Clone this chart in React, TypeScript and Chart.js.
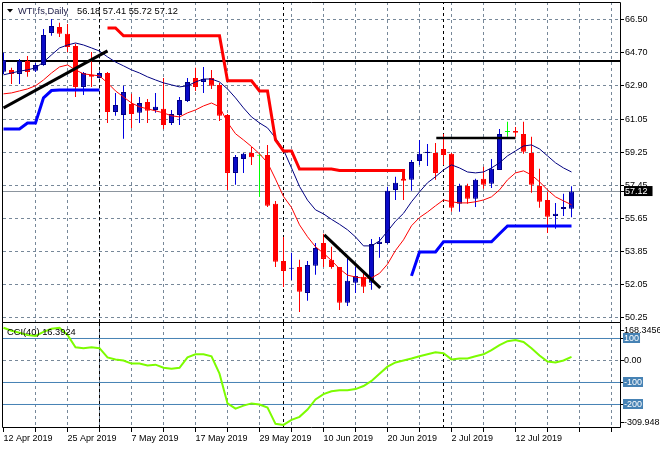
import React, { useEffect, useRef } from 'react';
import { Chart, registerables } from 'chart.js';

Chart.register(...registerables);

// ---------- data ----------
const symbolTitle = 'WTI.fs,Daily';
const lastBarText = '56.18 57.41 55.72 57.12';
const cciTitle = 'CCI(40) 16.3924';

const dateLabels = ['12 Apr 2019', '25 Apr 2019', '7 May 2019', '17 May 2019', '29 May 2019', '10 Jun 2019', '20 Jun 2019', '2 Jul 2019', '12 Jul 2019'];

const openP = [63.67, 63.77, 63.55, 64.26, 63.72, 64.04, 65.79, 66.12, 65.74, 65.08,
  62.84, 63.50, 63.33, 63.60, 61.47, 61.30, 61.91, 61.42, 62.02, 61.58,
  61.64, 60.87, 61.30, 62.07, 63.33, 63.11, 63.33, 62.95, 61.31, 58.14,
  58.90, 59.23, 59.07, 59.12, 56.45, 53.33, 52.90, 53.00, 51.58, 53.06,
  54.31, 53.39, 53.00, 51.04, 52.13, 52.46, 52.13, 54.26, 54.31, 57.21,
  57.82, 57.76, 58.79, 59.23, 59.23, 59.45, 59.18, 56.45, 57.43, 56.72,
  57.82, 57.54, 58.30, 60.38, 60.43, 60.27, 59.23, 57.43, 56.66, 55.79,
  56.17, 56.18];
const highP = [64.71, 63.88, 64.37, 64.53, 64.15, 66.00, 66.55, 66.34, 66.28, 65.20,
  63.66, 64.75, 63.70, 63.66, 62.50, 62.90, 62.46, 62.29, 62.18, 62.51,
  63.33, 61.58, 62.29, 63.33, 63.88, 63.93, 63.77, 63.06, 61.36, 59.12,
  59.23, 59.56, 59.18, 59.67, 56.61, 54.64, 53.77, 53.39, 53.33, 54.31,
  54.81, 54.10, 53.00, 53.50, 53.00, 52.68, 54.53, 54.64, 57.38, 57.93,
  57.82, 58.85, 59.94, 59.72, 59.78, 60.27, 59.23, 57.54, 57.54, 57.82,
  58.47, 58.90, 60.54, 60.93, 60.65, 60.93, 60.11, 58.36, 57.10, 56.50,
  57.00, 57.41];
const lowP = [63.54, 63.00, 63.00, 63.39, 63.66, 64.00, 65.63, 65.57, 64.75, 62.29,
  62.40, 62.84, 63.30, 60.87, 61.26, 60.00, 60.60, 60.87, 60.87, 61.42,
  60.54, 60.76, 60.76, 62.02, 62.62, 62.51, 62.73, 60.98, 57.21, 57.49,
  58.14, 58.57, 56.83, 56.28, 53.00, 51.90, 52.29, 50.54, 51.15, 52.57,
  53.00, 52.90, 50.65, 50.87, 51.58, 51.58, 51.75, 53.50, 54.26, 56.66,
  56.66, 57.16, 58.57, 58.52, 57.76, 58.57, 56.01, 56.01, 56.45, 56.28,
  57.27, 57.32, 58.30, 60.11, 60.11, 59.18, 57.05, 56.23, 54.86, 55.08,
  55.79, 55.72];
const closeP = [64.31, 63.55, 64.26, 63.66, 64.04, 65.68, 66.17, 65.74, 65.02, 62.84,
  63.60, 63.39, 63.60, 61.47, 61.85, 62.56, 61.36, 61.96, 61.53, 61.75,
  60.76, 61.36, 62.13, 63.11, 62.84, 63.27, 62.90, 61.26, 58.14, 59.01,
  59.18, 59.00, 59.07, 56.34, 53.28, 52.78, 52.95, 51.64, 53.11, 54.04,
  53.44, 53.00, 51.04, 52.24, 52.51, 51.91, 54.26, 54.37, 57.16, 57.60,
  57.71, 58.74, 59.18, 59.29, 58.14, 59.12, 56.23, 57.43, 56.72, 57.76,
  57.49, 58.36, 60.27, 60.38, 60.33, 59.29, 57.49, 56.56, 55.74, 55.90,
  56.28, 57.12];

const maSlow = [63.50, 63.60, 63.70, 63.77, 63.88, 64.20, 64.59, 64.97, 65.13, 65.24,
  65.13, 64.97, 64.80, 64.48, 64.20, 63.99, 63.77, 63.60, 63.39, 63.22,
  63.06, 62.95, 62.84, 62.90, 63.11, 63.27, 63.27, 63.11, 62.73, 62.24,
  61.69, 61.20, 60.87, 60.60, 60.05, 59.40, 58.41, 57.40, 56.65, 56.12,
  55.90, 55.60, 55.33, 55.03, 54.64, 54.15, 54.15, 54.42, 54.95, 55.50,
  55.93, 56.56, 57.10, 57.60, 57.93, 58.30, 58.58, 58.41, 58.19, 58.14,
  58.19, 58.41, 58.69, 59.07, 59.34, 59.61, 59.67, 59.45, 59.07, 58.69,
  58.41, 58.19];
const maFast = [62.46, 62.51, 62.62, 62.73, 62.90, 63.22, 63.60, 63.93, 64.04, 63.77,
  63.55, 63.50, 63.44, 63.06, 62.62, 62.29, 61.96, 61.75, 61.64, 61.53,
  61.42, 61.26, 61.20, 61.42, 61.58, 61.80, 61.96, 61.75, 60.90, 60.28,
  59.94, 59.58, 59.18, 58.70, 57.80, 56.85, 56.25, 55.30, 54.65, 54.10,
  53.75, 53.35, 52.90, 52.55, 52.45, 52.38, 52.40, 52.65, 53.15, 53.90,
  54.48, 55.25, 55.70, 56.00, 56.34, 56.66, 56.56, 56.50, 56.50, 56.56,
  56.66, 56.83, 57.21, 57.76, 58.14, 58.25, 58.03, 57.65, 57.21, 56.83,
  56.61, 56.40];

const upperStop = [null, null, null, null, null, null, null, null, null, null,
  null, null, null, 66.06, 66.06, 65.63, 65.63, 65.63, 65.63, 65.63,
  65.63, 65.63, 65.63, 65.63, 65.63, 65.63, 65.63, 65.63, 63.17, 63.17,
  63.17, 63.17, 62.62, 62.62, 59.94, 59.34, 59.34, 58.35, 58.35, 58.35,
  58.35, 58.35, 58.27, 58.27, 58.27, 58.27, 58.27, 58.27, 58.27, 58.27,
  58.27, null, null, null, null, null, null, null, null, null,
  null, null, null, null, null, null, null, null, null, null,
  null, null];
const upperStopEnd = 57.80;
const lowerStop = [60.54, 60.54, 60.54, 60.87, 60.87, 62.24, 62.64, 62.67, 62.67, 62.67,
  62.67, 62.67, 62.67, null, null, null, null, null, null, null,
  null, null, null, null, null, null, null, null, null, null,
  null, null, null, null, null, null, null, null, null, null,
  null, null, null, null, null, null, null, null, null, null,
  null, 52.51, 53.82, 53.82, 53.82, 54.37, 54.37, 54.37, 54.37, 54.37,
  54.37, 54.37, 54.81, 55.24, 55.24, 55.24, 55.24, 55.24, 55.24, 55.24,
  55.24, 55.24];

const cciValues = [149, 135, 126, 116, 112, 130, 144, 149, 116, 60,
  56, 60, 56, 14, 5, 0, -14, -14, -23, -19,
  -33, -37, -33, 14, 28, 28, 19, -60, -195, -219,
  -205, -195, -200, -214, -288, -293, -270, -256, -223, -177,
  -153, -140, -135, -135, -130, -116, -93, -60, -28, -9,
  0, 9, 19, 28, 37, 33, 5, 9, 9, 19,
  28, 47, 70, 88, 93, 84, 56, 23, -5, -9,
  0, 16.39];
const cciLevels = [100, -100, -200];
const cciLabels = ['168.3456', '100', '0.00', '-100', '-200', '-309.948'];

const priceTicks = [66.5, 64.7, 62.9, 61.05, 59.25, 57.45, 55.65, 53.85, 52.05, 50.25];
const currentPrice = 57.12;
const horizontalLevel = 64.26;
const monthStarts = [12, 35, 55];
const trendUp = [[0, 61.69], [13, 64.81]];
const trendDown = [[40.1, 54.75], [47.1, 51.86]];
const resistance = [[54.1, 60.05], [64, 60.05]];

// ---------- layout constants ----------
const X_MIN = -0.0625;
const X_MAX = 77.1875;
const Y_MIN = 49.99;
const Y_MAX = 67.48;
const CCI_MIN = -306.82;
const CCI_MAX = 175;
const cciLabelPos = [138, 100, 0, -100, -200, -283];
const FONT = "'Liberation Sans', Arial, sans-serif";
const GRID = '#778899';
const BULL = '#0a0ac8';
const BULL_EDGE = '#000080';
const BEAR = '#ff0000';
const DOJI = '#00ff00';

export default function App() {
  const ref = useRef<HTMLCanvasElement>(null);

  useEffect(() => {
    document.body.style.margin = '0';
    const canvas = ref.current!;
    const idx = closeP.map((_, i) => i);
    const kind = (i: number) => (closeP[i] > openP[i] ? 1 : closeP[i] < openP[i] ? -1 : 0);
    const fillOf = (i: number) => (kind(i) > 0 ? BULL : kind(i) < 0 ? BEAR : DOJI);
    const edgeOf = (i: number) => (kind(i) > 0 ? BULL_EDGE : kind(i) < 0 ? BEAR : DOJI);
    const wickOf = (i: number) => (kind(i) > 0 ? '#0000e0' : kind(i) < 0 ? BEAR : DOJI);

    const line = (data: any[], color: string, width: number, yAxisID = 'y', order = 5, dash: number[] = []) => ({
      type: 'line', data, borderColor: color, borderWidth: width, borderDash: dash,
      pointRadius: 0, pointHoverRadius: 0, fill: false, tension: 0, yAxisID, xAxisID: 'x', order,
    });
    const runs = (arr: (number | null)[]) => {
      const out: any[][] = [];
      let cur: any[] = [];
      arr.forEach((v, i) => {
        if (v == null) { if (cur.length) out.push(cur); cur = []; }
        else cur.push({ x: i, y: v });
      });
      if (cur.length) out.push(cur);
      return out;
    };
    const pts = (p: number[][]) => p.map(([x, y]) => ({ x, y }));

    const upperRuns = runs(upperStop);
    const lastRun = upperRuns[upperRuns.length - 1];
    lastRun.push({ x: lastRun[lastRun.length - 1].x, y: upperStopEnd });

    const datasets: any[] = [
      // CCI levels
      ...cciLevels.map(v => line([{ x: X_MIN, y: v }, { x: X_MAX, y: v }], '#4682b4', 1, 'cci', 20)),
      line([{ x: X_MIN, y: 0 }, { x: X_MAX, y: 0 }], GRID, 1, 'cci', 20, [3, 3]),
      // month separators
      ...monthStarts.map(m => line([{ x: m, y: Y_MIN }, { x: m, y: Y_MAX }], '#000', 1, 'y', 19, [3, 3])),
      ...monthStarts.map(m => line([{ x: m, y: CCI_MIN }, { x: m, y: CCI_MAX }], '#000', 1, 'cci', 19, [3, 3])),
      // horizontal level
      line([{ x: X_MIN, y: horizontalLevel }, { x: X_MAX, y: horizontalLevel }], '#000', 2, 'y', 18),
      {
        type: 'bar', label: 'wicks', data: idx.map(i => ({ x: i, y: [lowP[i], highP[i]] })),
        backgroundColor: (c: any) => (c.dataIndex == null ? BULL : wickOf(c.dataIndex)),
        borderWidth: 0, grouped: false, maxBarThickness: 1, inflateAmount: 0,
        yAxisID: 'y', xAxisID: 'x', order: 12,
      },
      {
        type: 'bar', label: 'bodies', data: idx.map(i => ({ x: i, y: [openP[i], closeP[i]] })),
        backgroundColor: (c: any) => (c.dataIndex == null ? BULL : fillOf(c.dataIndex)),
        borderColor: (c: any) => (c.dataIndex == null ? BULL : edgeOf(c.dataIndex)),
        borderWidth: 1, borderSkipped: false, grouped: false, maxBarThickness: 5, minBarLength: 1, inflateAmount: 0,
        yAxisID: 'y', xAxisID: 'x', order: 11,
      },
      line(idx.map(i => ({ x: i, y: maSlow[i] })), '#000080', 1, 'y', 6),
      line(idx.map(i => ({ x: i, y: maFast[i] })), '#ff0000', 1, 'y', 6),
      ...upperRuns.map(r => line(r, '#ff0000', 3, 'y', 5)),
      ...runs(lowerStop).map(r => line(r, '#0000ff', 3, 'y', 5)),
      line(pts(trendUp), '#000', 3, 'y', 4),
      line(pts(trendDown), '#000', 3, 'y', 4),
      line(pts(resistance), '#000', 2.5, 'y', 4),
      line(idx.map(i => ({ x: i, y: cciValues[i] })), '#7cfc00', 2, 'cci', 3),
    ];

    const framePlugin = {
      id: 'frames',
      afterDraw(chart: any) {
        const { ctx, chartArea, scales } = chart;
        const y = scales.y, c = scales.cci;
        ctx.save();
        ctx.strokeStyle = '#000';
        ctx.lineWidth = 1;
        ctx.beginPath();
        const l = chartArea.left - 0.5, r = chartArea.right - 0.5;
        ctx.rect(l, y.top + 0.5, r - l, y.bottom - y.top);
        ctx.rect(l, c.top + 0.5, r - l, c.bottom - c.top - 1);
        ctx.stroke();
        // header
        ctx.fillStyle = '#000';
        ctx.beginPath();
        ctx.moveTo(7, 9); ctx.lineTo(13, 9); ctx.lineTo(10, 12.5); ctx.closePath(); ctx.fill();
        ctx.font = `9.3px ${FONT}`;
        ctx.textBaseline = 'middle';
        ctx.textAlign = 'left';
        ctx.fillStyle = '#20204a';
        ctx.fillText(symbolTitle, 18, 11.5);
        ctx.fillStyle = '#000';
        ctx.fillText(lastBarText, 77, 11.5);
        ctx.fillText(cciTitle, 7, c.top + 10.5);
        ctx.restore();
      },
    };

    const tickFont = { family: FONT, size: 9, lineHeight: 1 };

    const chart = new Chart(canvas, {
      type: 'bar',
      data: { datasets },
      plugins: [framePlugin],
      options: {
        animation: false,
        responsive: false,
        devicePixelRatio: 1,
        events: [],
        layout: { padding: { left: 3, top: 2, right: 0, bottom: 0 } },
        plugins: { legend: { display: false }, tooltip: { enabled: false } },
        scales: {
          x: {
            type: 'linear', min: X_MIN, max: X_MAX, offset: false,
            grid: {
              offset: false,
              color: (c: any) => (c.tick && c.tick.value === 0 ? 'rgba(0,0,0,0)' : GRID),
              lineWidth: 1, tickLength: 4, tickColor: '#000', tickWidth: 1,
            },
            border: { display: false, dash: [3, 3] },
            afterBuildTicks: (s: any) => {
              const t = [];
              for (let v = 0; v <= 76; v += 4) t.push({ value: v });
              s.ticks = t;
            },
            afterFit: (s: any) => { s.height = 22; s.paddingLeft = 0; s.paddingRight = 0; },
            ticks: {
              autoSkip: false, maxRotation: 0, minRotation: 0, align: 'start', padding: 2,
              color: '#000', font: tickFont,
              callback: (v: any) => {
                const k = Number(v) / 8;
                return Number.isInteger(k) && k < dateLabels.length ? dateLabels[k] : '';
              },
            },
          },
          y: {
            type: 'linear', position: 'right', stack: 'panes', stackWeight: 320, weight: 0,
            min: Y_MIN, max: Y_MAX,
            grid: {
              color: (c: any) => (c.tick && c.tick.value === currentPrice ? '#8c959e' : GRID),
              lineWidth: 1, tickLength: 3, tickColor: '#000', tickWidth: 1,
            },
            border: { display: false, dash: (c: any) => (c.tick && c.tick.value === currentPrice ? [] : [3, 3]) },
            afterBuildTicks: (s: any) => { s.ticks = [...priceTicks, currentPrice].map(v => ({ value: v })); },
            afterFit: (s: any) => { s.width = 39; s.paddingTop = 0; s.paddingBottom = 0; },
            ticks: {
              autoSkip: false, padding: 1, font: tickFont,
              color: (c: any) => (c.tick && c.tick.value === currentPrice ? '#fff' : '#000'),
              showLabelBackdrop: (c: any) => !!(c.tick && c.tick.value === currentPrice),
              backdropColor: '#000',
              backdropPadding: { top: 1, bottom: 0, left: 1, right: 5 },
              callback: (v: any) => Number(v).toFixed(2),
            },
          },
          cci: {
            type: 'linear', position: 'right', stack: 'panes', stackWeight: 106, weight: 1,
            min: CCI_MIN, max: CCI_MAX,
            grid: { drawOnChartArea: false, tickLength: 3, tickColor: '#000', tickWidth: 1 },
            border: { display: false },
            afterBuildTicks: (s: any) => { s.ticks = cciLabelPos.map(v => ({ value: v })); },
            afterFit: (s: any) => { s.width = 39; s.paddingTop = 0; s.paddingBottom = 0; },
            ticks: {
              autoSkip: false, padding: 0, font: tickFont,
              color: (c: any) => (c.tick && cciLevels.includes(c.tick.value) ? '#fff' : '#000'),
              showLabelBackdrop: (c: any) => !!(c.tick && cciLevels.includes(c.tick.value)),
              backdropColor: '#4682b4',
              backdropPadding: { top: 1, bottom: 0, left: 1, right: 1 },
              callback: (_v: any, i: number) => cciLabels[i],
            },
          },
        },
      } as any,
    } as any);
    return () => chart.destroy();
  }, []);

  return (
    <div style={{ width: 660, height: 450, position: 'relative', background: '#fff' }}>
      <canvas ref={ref} width={660} height={450} style={{ display: 'block' }} />
    </div>
  );
}
